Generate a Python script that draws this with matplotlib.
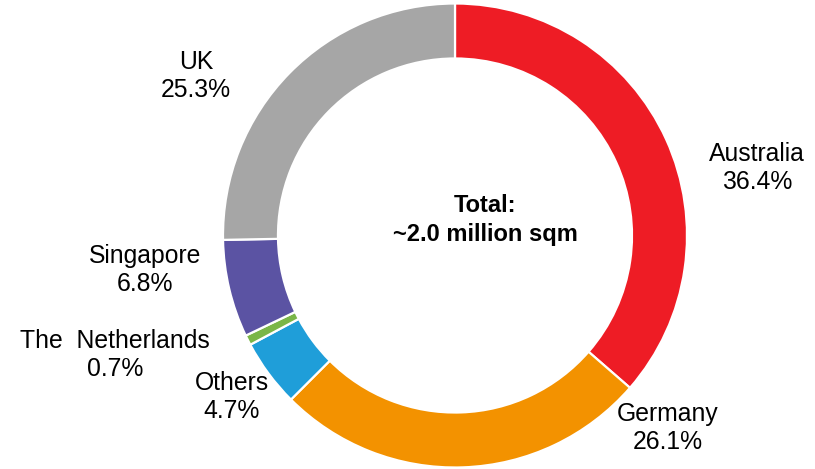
import matplotlib
matplotlib.use("Agg")
import matplotlib.pyplot as plt

plt.rcParams["font.family"] = ["Liberation Sans", "DejaVu Sans"]

# data (clockwise from 12 o'clock)
countries = ["Australia", "Germany", "Others", "The  Netherlands", "Singapore", "UK"]
shares = [36.4, 26.1, 4.7, 0.7, 6.8, 25.3]
colors = ["#EE1C25", "#F39200", "#1F9ED9", "#7AB648", "#5B53A3", "#A6A6A6"]
total_text = "Total:\n~2.0 million sqm"

# label centres in pixels (x, y from top)
label_px = [(757, 168), (668, 428), (232, 397), (115, 355), (145, 270), (196, 76)]

W, H = 815, 469
CX, CY, R = 455, 235.5, 232


def to_data(px, py):
    return (px - CX) / R, (CY - py) / R


fig = plt.figure(figsize=(W / 100, H / 100), dpi=100)
ax = fig.add_axes([0, 0, 1, 1])

ax.pie(shares, colors=colors, startangle=90, counterclock=False,
       radius=1.0, wedgeprops=dict(width=0.237, edgecolor="white", linewidth=1.6))

for name, val, (px, py) in zip(countries, shares, label_px):
    x, y = to_data(px, py)
    ax.text(x, y, f"{name}\n{val:.1f}%", ha="center", va="center",
            fontsize=17.8, linespacing=1.2)

tx, ty = to_data(485, 220)
ax.text(tx, ty, total_text, ha="center", va="center", fontsize=17,
        fontweight="bold", linespacing=1.3)

ax.set_xlim(-CX / R, (W - CX) / R)
ax.set_ylim(-(H - CY) / R, CY / R)
ax.set_aspect("auto")
ax.axis("off")

fig.savefig("out.png", dpi=100)
